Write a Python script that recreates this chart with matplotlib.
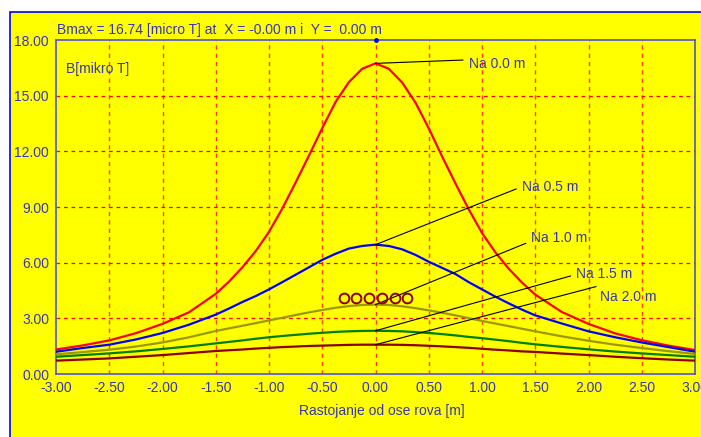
import matplotlib
matplotlib.use("Agg")
import matplotlib.pyplot as plt
from matplotlib.patches import Rectangle

# Horizontal distance from the trench axis [m]
x = [-3.0, -2.75, -2.5, -2.25, -2.0, -1.75, -1.5, -1.375, -1.25, -1.125,
     -1.0, -0.875, -0.75, -0.625, -0.5, -0.375, -0.25, -0.125, 0.0,
     0.125, 0.25, 0.375, 0.5, 0.625, 0.75, 0.875, 1.0, 1.125, 1.25,
     1.375, 1.5, 1.75, 2.0, 2.25, 2.5, 2.75, 3.0]

# Magnetic flux density [micro T] at several heights above ground
b_00 = [1.32, 1.54, 1.81, 2.20, 2.70, 3.33, 4.32, 4.98, 5.75, 6.62,
        7.66, 8.92, 10.32, 11.77, 13.25, 14.66, 15.73, 16.45, 16.74,
        16.45, 15.71, 14.63, 13.24, 11.73, 10.28, 8.88, 7.60, 6.56, 5.68,
        4.93, 4.28, 3.34, 2.70, 2.19, 1.82, 1.53, 1.29]
b_05 = [1.20, 1.40, 1.58, 1.86, 2.21, 2.66, 3.20, 3.53, 3.88, 4.20,
        4.56, 4.95, 5.35, 5.75, 6.15, 6.48, 6.76, 6.90, 6.97,
        6.90, 6.72, 6.42, 6.05, 5.72, 5.39, 4.95, 4.56, 4.17, 3.81,
        3.47, 3.16, 2.72, 2.30, 1.98, 1.70, 1.45, 1.20]
b_10 = [1.06, 1.18, 1.31, 1.48, 1.70, 1.98, 2.32, 2.46, 2.60, 2.74,
        2.89, 3.03, 3.18, 3.32, 3.45, 3.57, 3.66, 3.72, 3.74,
        3.72, 3.65, 3.55, 3.43, 3.30, 3.16, 3.01, 2.86, 2.72, 2.58,
        2.44, 2.30, 2.03, 1.79, 1.58, 1.40, 1.23, 1.08]
b_15 = [0.93, 1.02, 1.11, 1.22, 1.35, 1.49, 1.65, 1.73, 1.81, 1.90,
        1.98, 2.05, 2.11, 2.17, 2.22, 2.27, 2.30, 2.32, 2.33,
        2.32, 2.30, 2.26, 2.21, 2.15, 2.08, 2.00, 1.93, 1.85, 1.77,
        1.68, 1.60, 1.46, 1.33, 1.21, 1.11, 1.02, 0.93]
b_20 = [0.72, 0.78, 0.84, 0.93, 1.02, 1.13, 1.24, 1.28, 1.32, 1.37,
        1.41, 1.45, 1.48, 1.51, 1.53, 1.55, 1.57, 1.58, 1.58,
        1.58, 1.57, 1.55, 1.52, 1.49, 1.45, 1.41, 1.36, 1.31, 1.27,
        1.22, 1.19, 1.10, 1.02, 0.93, 0.85, 0.78, 0.72]

series = [b_00, b_05, b_10, b_15, b_20]
colors = ["#ff0000", "#0000ff", "#999900", "#008000", "#8b0000"]
labels = ["Na 0.0 m", "Na 0.5 m", "Na 1.0 m", "Na 1.5 m", "Na 2.0 m"]
# end point of each leader line and label anchor (data coords)
leader_end = [(0.82, 16.92), (1.32, 9.97), (1.41, 7.04), (1.83, 5.28), (2.07, 4.71)]
label_pos = [(0.876, 16.73), (1.378, 10.09), (1.46, 7.31), (1.88, 5.39), (2.11, 4.17)]

# Cable positions in the trench
cable_x = [-0.30, -0.18, -0.06, 0.06, 0.18, 0.30]
cable_y = [4.11] * 6

xticks = [-3.0, -2.5, -2.0, -1.5, -1.0, -0.5, 0.0, 0.5, 1.0, 1.5, 2.0, 2.5, 3.0]
yticks = [0.0, 3.0, 6.0, 9.0, 12.0, 15.0, 18.0]

txt = "#3535b5"
plt.rcParams["font.family"] = ["Liberation Sans", "DejaVu Sans"]
plt.rcParams["font.size"] = 10

W, H = 701, 437
fig = plt.figure(figsize=(W / 100, H / 100), dpi=100, facecolor="white")

# yellow panel with blue border (right and bottom edges run past the canvas)
fig.patches.append(Rectangle((10 / W, -0.2), 1.2, 0.2 + (H - 12) / H,
                             transform=fig.transFigure,
                             facecolor="#ffff00", edgecolor="#0000ff", linewidth=1.2,
                             zorder=-10))

ax = fig.add_axes([56 / W, (H - 374) / H, (695 - 56) / W, (374 - 40) / H])
ax.set_zorder(5)
ax.set_facecolor("#ffff00")
ax.set_xlim(-3.0, 3.0)
ax.set_ylim(0.0, 18.0)
ax.set_xticks(xticks)
ax.set_yticks(yticks)
ax.set_xticklabels([f"{v:.2f}" for v in xticks])
ax.set_yticklabels([f"{v:.2f}" for v in yticks])
ax.tick_params(length=0, colors=txt, labelsize=10, pad=5)
for s in ax.spines.values():
    s.set_color("#5050d8")
    s.set_linewidth(1.2)

for v in xticks[1:-1]:
    ax.axvline(v, color="#ff3c00", lw=1.0, ls=(0, (3, 3)), zorder=1)
for v in yticks[1:-1]:
    ax.axhline(v, color="#ff0000", lw=0.9, ls=(0, (3, 3)), zorder=1)

for ys, c in zip(series, colors):
    ax.plot(x, ys, color=c, lw=1.6, zorder=3)

for ys, (ex, ey), (lx, ly), lab in zip(series, leader_end, label_pos, labels):
    peak = max(ys)
    ax.plot([0.0, ex], [peak, ey], color="black", lw=0.8, zorder=4)
    ax.text(lx, ly, lab, color=txt, fontsize=10, va="center", ha="left", zorder=5)

ax.plot(cable_x, cable_y, ls="none", marker="o", markersize=7,
        markerfacecolor="none", markeredgecolor="#8b0000", markeredgewidth=1.4, zorder=5)

ax.plot([0.0], [18.0], marker="o", markersize=2.5, color="#0000ff", clip_on=False, zorder=6)

ax.text(-2.905, 16.42, "B[mikro T]", color=txt, fontsize=10, va="center", ha="left")

fig.text(57 / W, (H - 30) / H, "Bmax = 16.74 [micro T] at  X = -0.00 m i  Y =  0.00 m",
         color=txt, fontsize=10, va="center", ha="left", zorder=10)
fig.text(382 / W, (H - 411.5) / H, "Rastojanje od ose rova [m]",
         color=txt, fontsize=10, va="center", ha="center", zorder=10)

fig.savefig("out.png", dpi=100, facecolor="white")
